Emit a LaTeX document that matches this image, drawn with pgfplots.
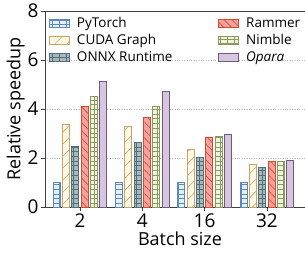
\documentclass[border=0pt]{standalone}
\usepackage{pgfplots}
\pgfplotsset{compat=1.18}
\usepackage{fontspec}
\setmainfont{Open Sans}
\usetikzlibrary{patterns,patterns.meta}
\definecolor{ptE}{HTML}{5B8AB8}\definecolor{ptF}{HTML}{E6EEF7}
\definecolor{cgE}{HTML}{C9A46A}\definecolor{cgF}{HTML}{FDF9E6}
\definecolor{onE}{HTML}{50707E}\definecolor{onF}{HTML}{A9B9B8}
\definecolor{raE}{HTML}{D9472F}\definecolor{raF}{HTML}{F2A39D}
\definecolor{niE}{HTML}{8A9A5B}\definecolor{niF}{HTML}{EEF3E2}
\definecolor{opE}{HTML}{6E5B7A}\definecolor{opF}{HTML}{D6C6DF}
\pgfdeclarepatternformonly{hgrid}{\pgfqpoint{-0.5pt}{-0.5pt}}{\pgfqpoint{7.5pt}{5.2pt}}{\pgfqpoint{7pt}{4.7pt}}{%
  \pgfsetlinewidth{0.6pt}%
  \pgfpathmoveto{\pgfqpoint{0pt}{0pt}}\pgfpathlineto{\pgfqpoint{7pt}{0pt}}%
  \pgfpathmoveto{\pgfqpoint{3.5pt}{0pt}}\pgfpathlineto{\pgfqpoint{3.5pt}{4.7pt}}%
  \pgfusepath{stroke}}
\begin{document}
\begin{tikzpicture}
\useasboundingbox (-45pt,-48pt) rectangle (260pt,207pt);
\clip (-45pt,-48pt) rectangle (260pt,207pt);
\begin{axis}[
  scale only axis,
  width=270pt, height=196pt,
  xmin=-0.562, xmax=3.772,
  ymin=0, ymax=8,
  ytick={0,2,4,6,8},
  xtick={0,1,2,3},
  xticklabels={2,4,16,32},
  ybar=2.3pt, bar width=7pt,
  tick align=outside,
  xtick pos=bottom, ytick pos=left,
  major tick length=4pt,
  axis line style={line width=0.9pt, black!75},
  tick style={line width=0.8pt, black!75},
  ymajorgrids,
  grid style={dotted, gray!55, line width=0.6pt},
  /pgf/number format/assume math mode=true,
  ticklabel style={font=\fontsize{19}{21}\selectfont},
  label style={font=\fontsize{18}{20}\selectfont},
  xticklabel style={yshift=1pt},
  yticklabel style={xshift=1pt},
  xlabel={Batch size},
  ylabel={Relative speedup},
  ylabel style={yshift=-4pt},
  xlabel style={yshift=3pt},
  legend columns=3, transpose legend,
  legend style={at={(0,1)}, anchor=north west, draw=none, fill=none,
    font=\fontsize{13.5}{16}\selectfont, xshift=1pt, yshift=-2pt,
    /tikz/every odd column/.append style={column sep=5pt},
    /tikz/every even column/.append style={column sep=44pt},
    row sep=1.5pt},
  legend cell align=left,
  legend image code/.code={\draw[#1] (0pt,-4pt) rectangle (20pt,4pt);},
]
\addplot[draw=ptE, line width=0.8pt, fill=ptF, postaction={pattern=hgrid, pattern color=ptE}]
  coordinates {(0,1.0) (1,1.0) (2,1.0) (3,1.0)};
\addplot[draw=cgE, line width=0.8pt, fill=cgF, postaction={pattern={Lines[angle=45,distance=8.5pt,line width=0.6pt]}, pattern color=cgE}]
  coordinates {(0,3.37) (1,3.28) (2,2.35) (3,1.74)};
\addplot[draw=onE, line width=0.8pt, fill=onF, postaction={pattern=hgrid, pattern color=onE}]
  coordinates {(0,2.46) (1,2.63) (2,2.03) (3,1.61)};
\addplot[draw=raE, line width=0.8pt, fill=raF, postaction={pattern={Lines[angle=-45,distance=5.6pt,line width=0.6pt]}, pattern color=raE}]
  coordinates {(0,4.12) (1,3.66) (2,2.86) (3,1.86)};
\addplot[draw=niE, line width=0.8pt, fill=niF, postaction={pattern=hgrid, pattern color=niE}]
  coordinates {(0,4.50) (1,4.09) (2,2.88) (3,1.86)};
\addplot[draw=opE, line width=0.8pt, fill=opF]
  coordinates {(0,5.11) (1,4.71) (2,2.97) (3,1.90)};
\legend{PyTorch, CUDA Graph, ONNX Runtime, Rammer, Nimble, \textit{Opara}}
\end{axis}
\end{tikzpicture}
\end{document}
